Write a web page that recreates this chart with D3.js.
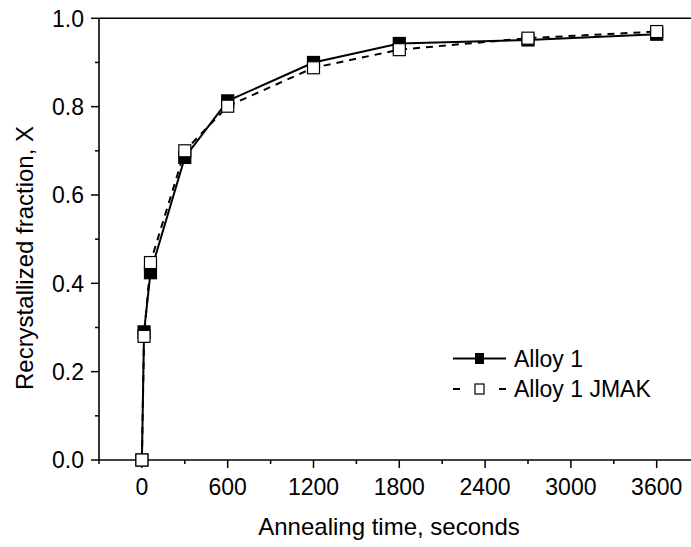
<!DOCTYPE html>
<html><head><meta charset="utf-8">
<script src="https://cdn.jsdelivr.net/npm/d3@7"></script>
<style>body{margin:0;background:#fff}text{font-family:"Liberation Sans",Arial,sans-serif;fill:#000}</style>
</head><body>
<script>
const times = [0, 15, 60, 300, 600, 1200, 1800, 2700, 3600];
const alloy1 = [0, 0.29, 0.424, 0.685, 0.813, 0.900, 0.943, 0.951, 0.964];
const alloy1JMAK = [0, 0.28, 0.447, 0.700, 0.801, 0.888, 0.929, 0.955, 0.970];
const xTicks = [0, 600, 1200, 1800, 2400, 3000, 3600];
const yTicks = [0.0, 0.2, 0.4, 0.6, 0.8, 1.0];
const seriesNames = ["Alloy 1", "Alloy 1 JMAK"];

const W = 691, H = 547;
const svg = d3.select("body").append("svg").attr("width", W).attr("height", H);
const x = d3.scaleLinear().domain([-300, 3840]).range([99, 691]);
const y = d3.scaleLinear().domain([0, 1]).range([460, 18.3]);
const FS = 23, TFS = 24;

// top frame line
svg.append("line").attr("x1", 99).attr("x2", 691).attr("y1", y(1)).attr("y2", y(1))
  .attr("stroke", "#000").attr("stroke-width", 1.6);

// x axis
const xMinor = d3.range(-300, 3841, 300).filter(v => !xTicks.includes(v));
const gx = svg.append("g").attr("transform", "translate(0,460)");
gx.append("line").attr("x1", 99).attr("x2", 691).attr("stroke", "#000").attr("stroke-width", 1.6);
gx.selectAll(".mj").data(xTicks).join("line").attr("x1", d => x(d)).attr("x2", d => x(d))
  .attr("y1", 0).attr("y2", 8).attr("stroke", "#000").attr("stroke-width", 1.5);
gx.selectAll(".mn").data(xMinor).join("line").attr("x1", d => x(d)).attr("x2", d => x(d))
  .attr("y1", 0).attr("y2", 4).attr("stroke", "#000").attr("stroke-width", 1.5);
gx.selectAll("text").data(xTicks).join("text").attr("x", d => x(d)).attr("y", 34.5)
  .attr("text-anchor", "middle").attr("font-size", FS).text(d => d);

// y axis
const yMinor = [0.1, 0.3, 0.5, 0.7, 0.9];
const gy = svg.append("g").attr("transform", "translate(99,0)");
gy.append("line").attr("y1", 460).attr("y2", y(1)).attr("stroke", "#000").attr("stroke-width", 1.6);
gy.selectAll(".mj").data(yTicks).join("line").attr("y1", d => y(d)).attr("y2", d => y(d))
  .attr("x1", 0).attr("x2", -8).attr("stroke", "#000").attr("stroke-width", 1.5);
gy.selectAll(".mn").data(yMinor).join("line").attr("y1", d => y(d)).attr("y2", d => y(d))
  .attr("x1", 0).attr("x2", -4).attr("stroke", "#000").attr("stroke-width", 1.5);
gy.selectAll("text").data(yTicks).join("text").attr("x", -15).attr("y", d => y(d))
  .attr("dy", "0.36em").attr("text-anchor", "end").attr("font-size", FS).text(d => d.toFixed(1));

// titles
svg.append("text").attr("x", 389).attr("y", 535).attr("text-anchor", "middle")
  .attr("font-size", TFS).text("Annealing time, seconds");
svg.append("text").attr("transform", "translate(33,258) rotate(-90)").attr("text-anchor", "middle")
  .attr("font-size", TFS).text("Recrystallized fraction, X");

const line = d3.line().x(d => x(d[0])).y(d => y(d[1]));
const d1 = times.map((t, i) => [t, alloy1[i]]);
const d2 = times.map((t, i) => [t, alloy1JMAK[i]]);

svg.append("path").datum(d1).attr("d", line).attr("fill", "none").attr("stroke", "#000").attr("stroke-width", 2);
svg.append("path").datum(d2).attr("d", line).attr("fill", "none").attr("stroke", "#000").attr("stroke-width", 2)
  .attr("stroke-dasharray", "7,6");

const S = 12;
svg.selectAll(".p1").data(d1).join("rect").attr("x", d => x(d[0]) - S/2).attr("y", d => y(d[1]) - S/2)
  .attr("width", S).attr("height", S).attr("fill", "#000").attr("stroke", "#000").attr("stroke-width", 1.2);
svg.selectAll(".p2").data(d2).join("rect").attr("x", d => x(d[0]) - S/2).attr("y", d => y(d[1]) - S/2)
  .attr("width", S).attr("height", S).attr("fill", "#fff").attr("stroke", "#000").attr("stroke-width", 1.2);

// legend
const lg = svg.append("g");
lg.append("line").attr("x1", 453).attr("x2", 506).attr("y1", 358.5).attr("y2", 358.5).attr("stroke", "#000").attr("stroke-width", 2);
lg.append("rect").attr("x", 475).attr("y", 353).attr("width", 9).attr("height", 11).attr("fill", "#000");
lg.append("text").attr("x", 514).attr("y", 358.5).attr("dy", "0.36em").attr("font-size", FS).text(seriesNames[0]);
lg.append("line").attr("x1", 453).attr("x2", 460).attr("y1", 389).attr("y2", 389).attr("stroke", "#000").attr("stroke-width", 2);
lg.append("line").attr("x1", 499).attr("x2", 506).attr("y1", 389).attr("y2", 389).attr("stroke", "#000").attr("stroke-width", 2);
lg.append("rect").attr("x", 475).attr("y", 384).attr("width", 9).attr("height", 10).attr("fill", "#fff").attr("stroke", "#000").attr("stroke-width", 1.2);
lg.append("text").attr("x", 514).attr("y", 389).attr("dy", "0.36em").attr("font-size", FS).text(seriesNames[1]);
</script>
</body></html>
